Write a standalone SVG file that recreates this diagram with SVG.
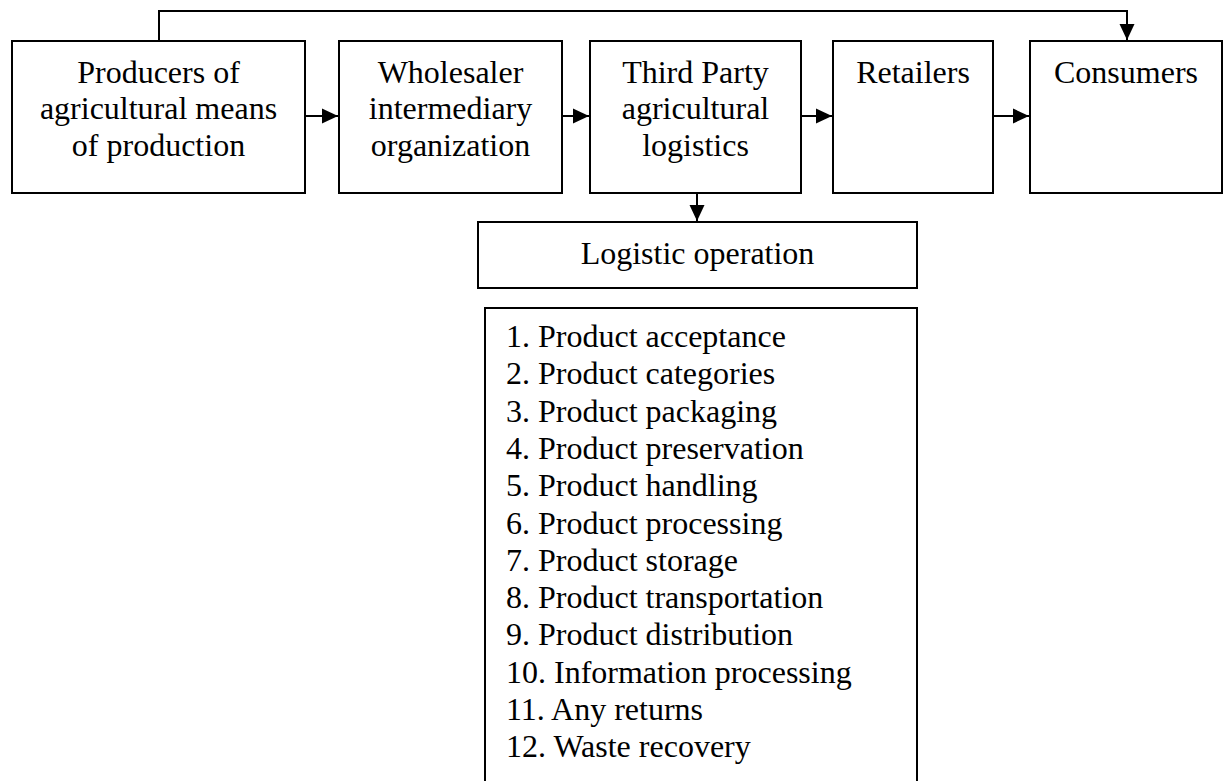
<svg xmlns="http://www.w3.org/2000/svg" width="1224" height="781" viewBox="0 0 1224 781">
<style>
.box{fill:#fff;stroke:#000;stroke-width:2}
.t{font-family:"Liberation Serif","Times New Roman",serif;font-size:32px;fill:#000}
.c{text-anchor:middle}
.ln{fill:none;stroke:#000;stroke-width:2}
</style>
<defs>
<marker id="ah" markerWidth="16" markerHeight="16" refX="16" refY="8" orient="auto" markerUnits="userSpaceOnUse">
<path d="M0,0.5 L16,8 L0,15.5 Z" fill="#000"/>
</marker>
</defs>
<rect width="1224" height="781" fill="#fff"/>
<g id="connectors">
<path class="ln" d="M159,41 V11 H1127 V40" marker-end="url(#ah)"/>
<line class="ln" x1="305" y1="116" x2="338" y2="116" marker-end="url(#ah)"/>
<line class="ln" x1="562" y1="116" x2="589" y2="116" marker-end="url(#ah)"/>
<line class="ln" x1="801" y1="116" x2="832" y2="116" marker-end="url(#ah)"/>
<line class="ln" x1="993" y1="116" x2="1029" y2="116" marker-end="url(#ah)"/>
<line class="ln" x1="697" y1="193" x2="697" y2="221" marker-end="url(#ah)"/>
</g>
<g id="producers">
<rect class="box" x="12" y="41" width="293" height="152"/>
<text class="t c" x="158.5" y="83">Producers of</text>
<text class="t c" x="158.5" y="119">agricultural means</text>
<text class="t c" x="158.5" y="156">of production</text>
</g>
<g id="wholesaler">
<rect class="box" x="339" y="41" width="223" height="152"/>
<text class="t c" x="450.5" y="83">Wholesaler</text>
<text class="t c" x="450.5" y="119">intermediary</text>
<text class="t c" x="450.5" y="156">organization</text>
</g>
<g id="thirdparty">
<rect class="box" x="590" y="41" width="211" height="152"/>
<text class="t c" x="695.5" y="83">Third Party</text>
<text class="t c" x="695.5" y="119">agricultural</text>
<text class="t c" x="695.5" y="156">logistics</text>
</g>
<g id="retailers">
<rect class="box" x="833" y="41" width="160" height="152"/>
<text class="t c" x="913" y="83">Retailers</text>
</g>
<g id="consumers">
<rect class="box" x="1030" y="41" width="192" height="152"/>
<text class="t c" x="1126" y="83">Consumers</text>
</g>
<g id="logistic">
<rect class="box" x="478" y="222" width="439" height="66"/>
<text class="t c" x="697.5" y="264">Logistic operation</text>
</g>
<g id="list">
<rect class="box" x="485" y="308" width="432" height="480"/>
<text class="t" x="506" y="347">1. Product acceptance</text>
<text class="t" x="506" y="384.3">2. Product categories</text>
<text class="t" x="506" y="421.6">3. Product packaging</text>
<text class="t" x="506" y="458.9">4. Product preservation</text>
<text class="t" x="506" y="496.2">5. Product handling</text>
<text class="t" x="506" y="533.5">6. Product processing</text>
<text class="t" x="506" y="570.8">7. Product storage</text>
<text class="t" x="506" y="608.1">8. Product transportation</text>
<text class="t" x="506" y="645.4">9. Product distribution</text>
<text class="t" x="506" y="682.7">10. Information processing</text>
<text class="t" x="506" y="720">11. Any returns</text>
<text class="t" x="506" y="757.3">12. Waste recovery</text>
</g>
</svg>
